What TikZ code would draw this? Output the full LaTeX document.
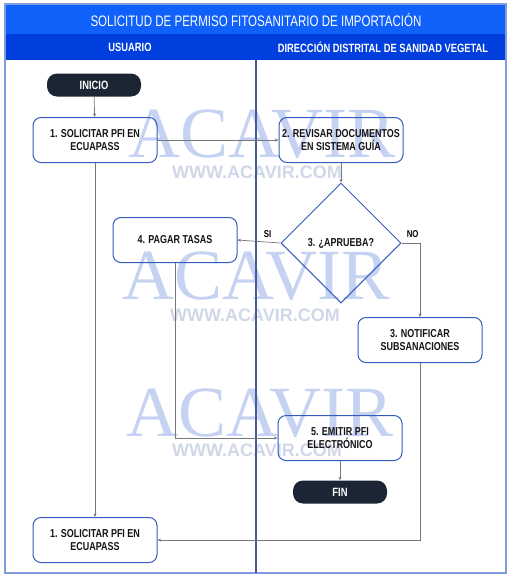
\documentclass[tikz,border=0pt]{standalone}
\usepackage{fontspec}
\setmainfont{Liberation Sans}[FakeStretch=0.76]
\newfontfamily\boxfont{Liberation Sans}[FakeStretch=0.78]
\newfontfamily\wmserif{Liberation Serif}
\newfontfamily\wmsans{Liberation Sans}
\usetikzlibrary{shapes.geometric,arrows.meta}
\definecolor{titleblue}{RGB}{16,96,250}
\definecolor{headblue}{RGB}{0,62,222}
\definecolor{framecol}{RGB}{128,155,222}
\definecolor{divcol}{RGB}{70,92,150}
\definecolor{boxcol}{RGB}{52,92,188}
\definecolor{pillcol}{RGB}{28,37,51}
\definecolor{linecol}{RGB}{120,120,120}
\definecolor{wmA}{RGB}{198,210,242}
\definecolor{wmB}{RGB}{208,215,232}
\definecolor{txtcol}{RGB}{20,20,25}
\tikzset{
  stepbox/.style={draw=boxcol, line width=1pt, rounded corners=8pt, minimum width=124pt, minimum height=45pt, align=center, text=txtcol, font=\boxfont\bfseries\fontsize{11.5}{13.5}\selectfont, inner sep=2pt},
  pill/.style={fill=pillcol, rounded corners=10pt, minimum width=94pt, minimum height=23pt, text=white, font=\boxfont\bfseries\fontsize{12}{12}\selectfont},
  decision/.style={diamond, draw=boxcol, line width=1pt, minimum width=120pt, minimum height=120pt, inner sep=0pt, text=txtcol, font=\boxfont\bfseries\fontsize{11.5}{12}\selectfont},
  conn/.style={draw=linecol, line width=0.7pt, -{Stealth[length=3.5pt,width=3pt]}},
  lbl/.style={font=\boxfont\bfseries\fontsize{10}{11}\selectfont, inner sep=1pt},
  wmbig/.style={text=wmA, font=\wmserif\fontsize{72}{72}\selectfont},
  wmsmall/.style={text=wmB, font=\wmsans\fontsize{18}{18}\selectfont\bfseries}
}
\begin{document}
\begin{tikzpicture}[x=1pt,y=-1pt]
\useasboundingbox (0,0) rectangle (512,576);
% frame and headers
\fill[white] (0,0) rectangle (512,576);
\fill[titleblue] (5,4) rectangle (506,34);
\fill[headblue] (5,34) rectangle (506,60);
\node[text=white, font=\fontsize{15.2}{16}\selectfont] (title) at (256,20) {SOLICITUD DE PERMISO FITOSANITARIO DE IMPORTACIÓN};
\node[text=white, font=\boxfont\bfseries\fontsize{12}{13}\selectfont] (h1) at (130,47.5) {USUARIO};
\node[text=white, font=\boxfont\bfseries\fontsize{12}{13}\selectfont] (h2) at (383,47.5) {DIRECCIÓN DISTRITAL DE SANIDAD VEGETAL};
% watermarks
\node[wmbig] (wa1) at (262,134) {ACAVIR};
\node[wmsmall] (ww1) at (257,172) {WWW.ACAVIR.COM};
\node[wmbig] (wa2) at (256,276) {ACAVIR};
\node[wmsmall] (ww2) at (255,315) {WWW.ACAVIR.COM};
\node[wmbig] (wa3) at (260,413) {ACAVIR};
\node[wmsmall] (ww3) at (257,450) {WWW.ACAVIR.COM};
\draw[framecol, line width=1.8pt] (5,4) rectangle (506,573);
\draw[divcol, line width=1.5pt] (256,60) -- (256,573);
% nodes
\node[pill] (inicio) at (94,85) {INICIO};
\node[stepbox] (b1) at (95,140) {1. SOLICITAR PFI EN\\ECUAPASS};
\node[stepbox] (b2) at (341,140) {2. REVISAR DOCUMENTOS\\EN SISTEMA GUÍA};
\node[decision] (dia) at (341,243) {3. ¿APRUEBA?};
\node[stepbox] (b4) at (175,240) {4. PAGAR TASAS};
\node[stepbox] (b3) at (420,340) {3. NOTIFICAR\\SUBSANACIONES};
\node[stepbox] (b5) at (340,438) {5. EMITIR PFI\\ELECTRÓNICO};
\node[pill] (fin) at (340,492) {FIN};
\node[stepbox] (b1b) at (95,540) {1. SOLICITAR PFI EN\\ECUAPASS};
% connectors
\draw[conn] (inicio) -- (b1);
\draw[conn] (b1) -- (b2);
\draw[conn] (b2) -- (dia);
\draw[conn] (dia.west) -- node[lbl, pos=0.3, above=3pt] (si) {SI} (b4.east);
\draw[conn] (dia.east) -| node[lbl, pos=0.3, above=4pt] (no) {NO} (b3.north);
\draw[conn] (b1) -- (b1b);
\draw[conn] (b4.south) |- (b5.west);
\draw[conn] (b3.south) |- (b1b.east);
\draw[conn] (b5) -- (fin);
\end{tikzpicture}
\end{document}
